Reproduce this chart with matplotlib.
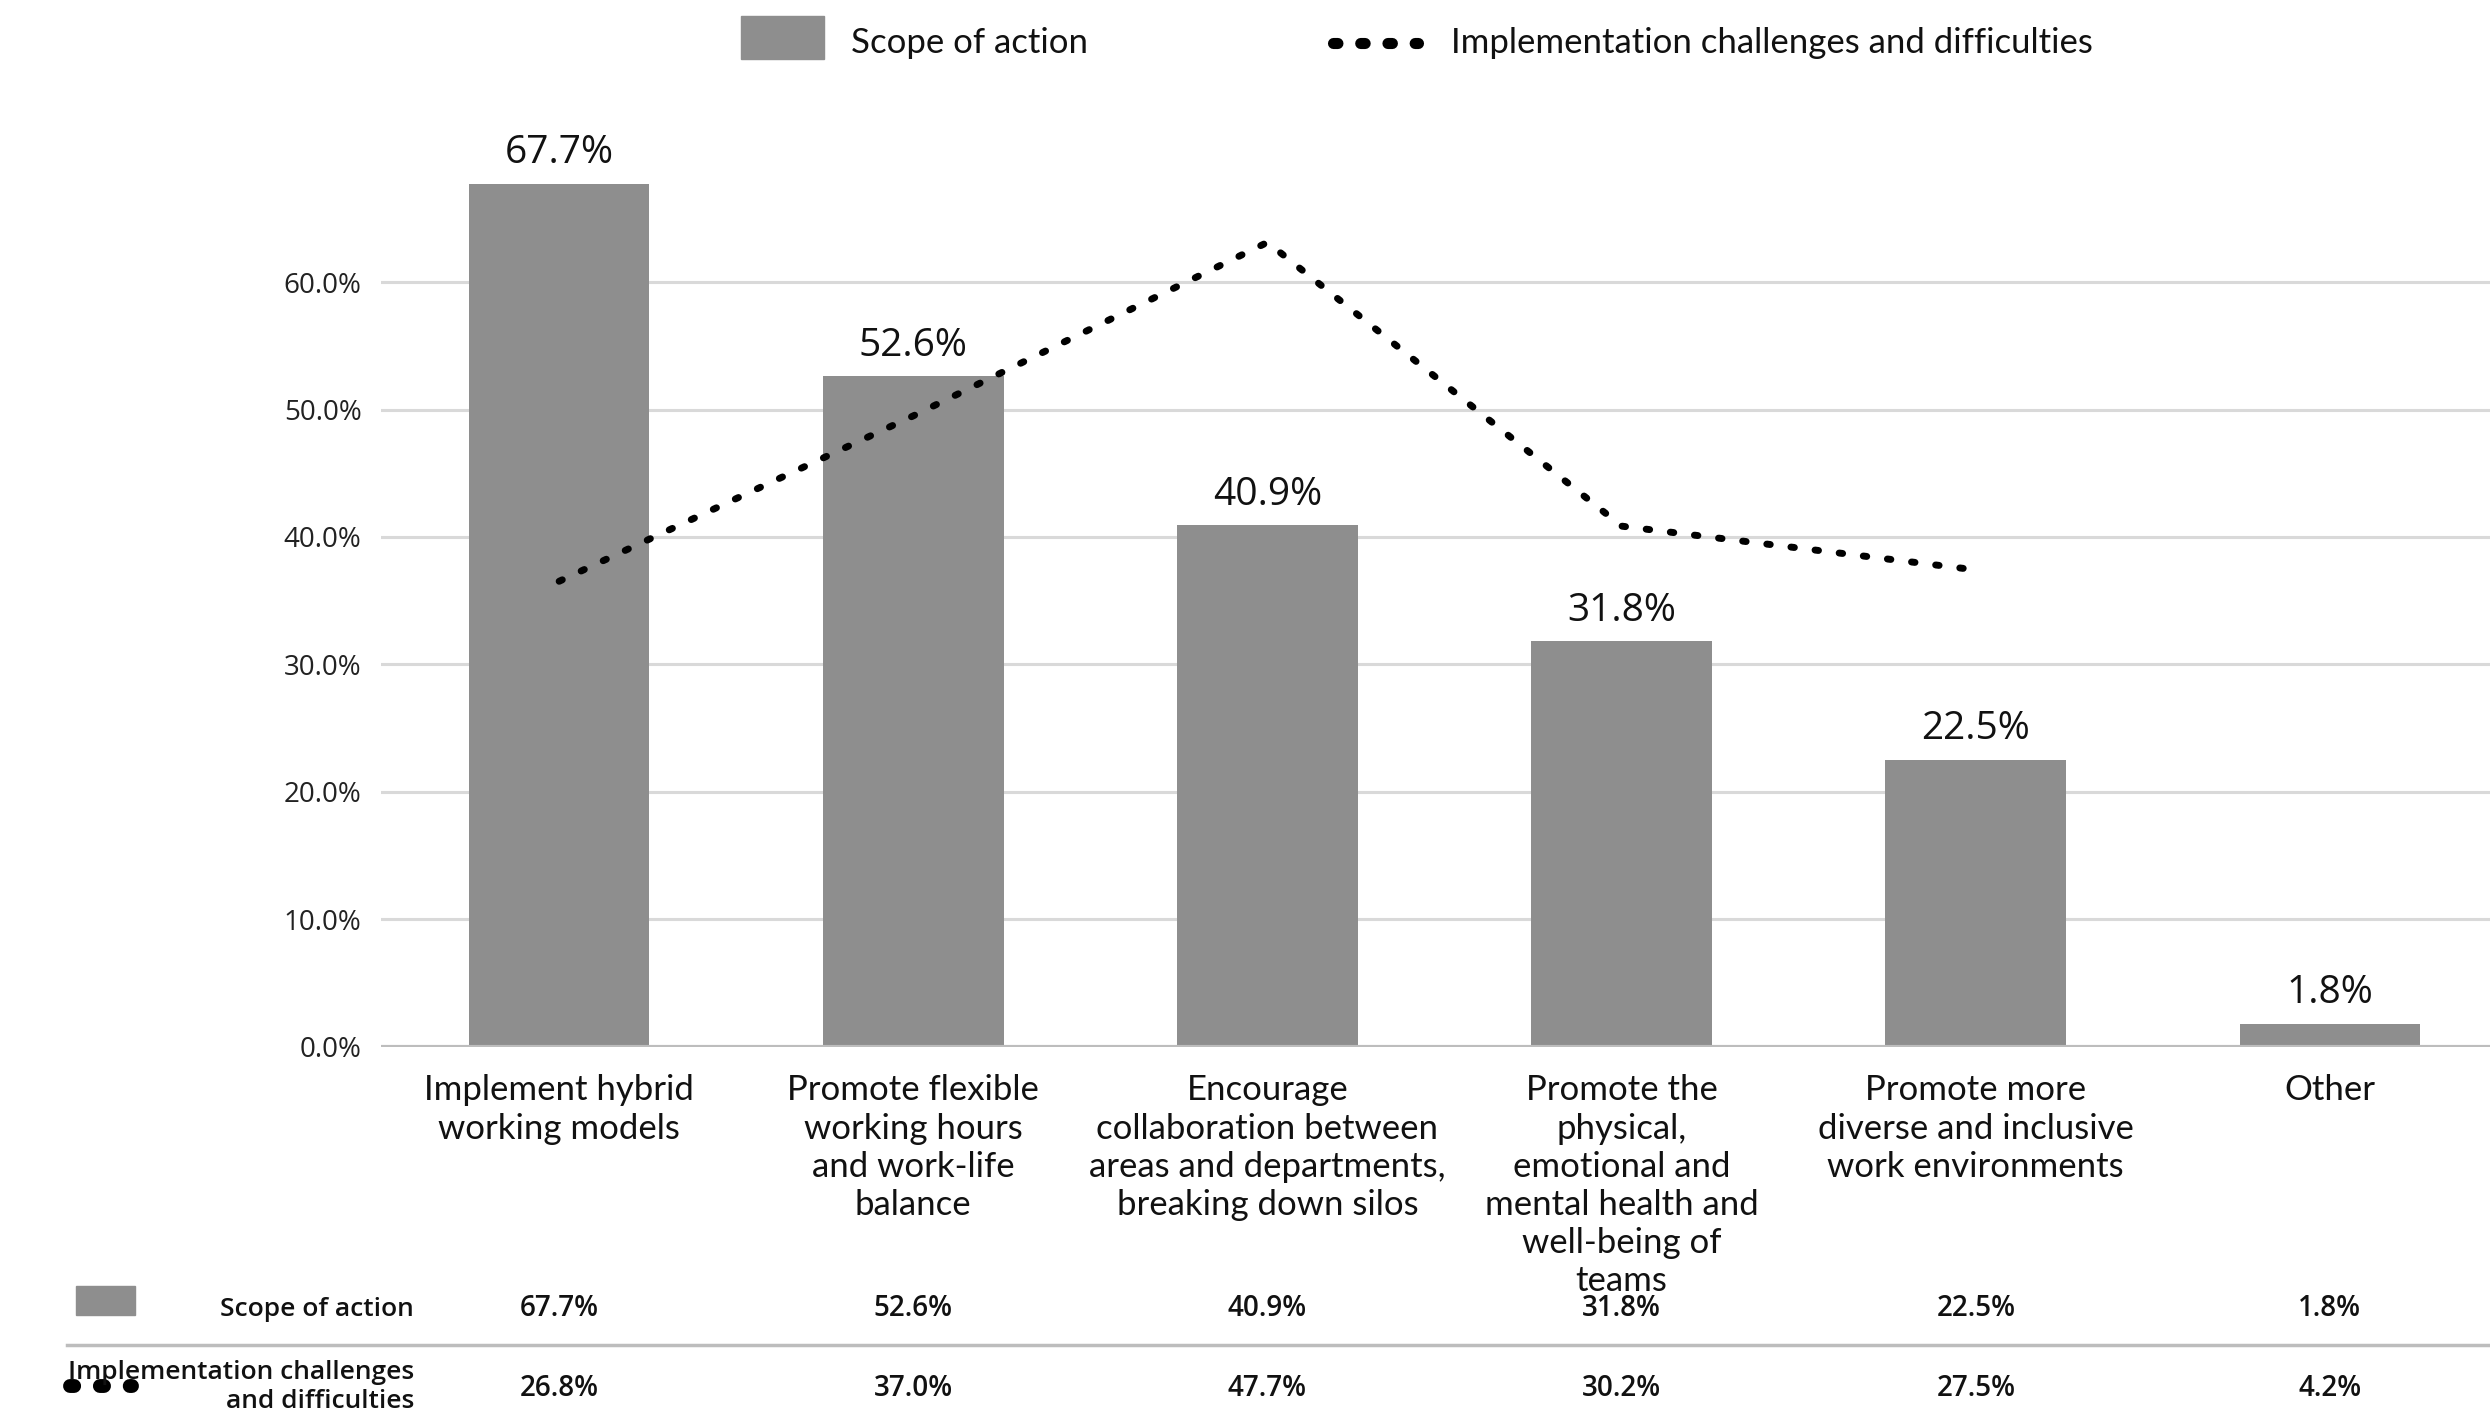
import matplotlib
matplotlib.use("Agg")
import matplotlib.pyplot as plt
from matplotlib.lines import Line2D
from matplotlib.patches import Rectangle
import matplotlib.transforms as mtransforms

plt.rcParams['font.family'] = ['Lato', 'DejaVu Sans']
NUMFONT = ['Open Sans', 'DejaVu Sans']

categories = [
    "Implement hybrid\nworking models",
    "Promote flexible\nworking hours\nand work-life\nbalance",
    "Encourage\ncollaboration between\nareas and departments,\nbreaking down silos",
    "Promote the\nphysical,\nemotional and\nmental health and\nwell-being of\nteams",
    "Promote more\ndiverse and inclusive\nwork environments",
    "Other",
]
scope = [67.7, 52.6, 40.9, 31.8, 22.5, 1.8]
challenges = [26.8, 37.0, 47.7, 30.2, 27.5, 4.2]
line_points = 5  # the reference's line stops before "Other"
yticks = [0, 10, 20, 30, 40, 50, 60]
series_names = ["Scope of action", "Implementation challenges and difficulties"]
table_names = ["Scope of action", "Implementation challenges\nand difficulties"]

BAR = "#8e8e8e"
GRID = "#d9d9d9"
W, H = 2490, 1415
fig = plt.figure(figsize=(W / 100, H / 100), dpi=100)

def fx(px):
    return px / W

def fy(py):
    return 1 - py / H

ax_left, ax_right = 381, 2490
ax_bottom, ax_top = 1046.5, 154.7
ax = fig.add_axes([fx(ax_left), fy(ax_bottom), fx(ax_right - ax_left), (ax_bottom - ax_top) / H])

x = list(range(len(categories)))
ax.bar(x, scope, width=0.51, color=BAR, zorder=3)
ax.set_xlim(-0.503, 5.452)
ax.set_ylim(0, 70)
ax.set_yticks(yticks)
ax.set_yticklabels([f"{v:.1f}%" for v in yticks], fontsize=20, color="#222222", family=NUMFONT)
ax.yaxis.grid(True, color=GRID, lw=2.2, zorder=0)
ax.axhline(0, color="#bdbdbd", lw=3, zorder=4)
ax.set_xticks(x)
ax.set_xticklabels(categories, fontsize=25, linespacing=1.24, color="#111111")
ax.tick_params(axis='both', length=0)
ax.tick_params(axis='y', pad=14)
ax.tick_params(axis='x', pad=20)
for s in ax.spines.values():
    s.set_visible(False)

for xi, v in zip(x, scope):
    ax.annotate(f"{v}%", (xi, v), xytext=(0, 15), textcoords="offset points",
                ha="center", va="baseline", fontsize=28, color="#111111", family=NUMFONT)

ax2 = ax.twinx()
a, b = 2.4, 1.273
ax2.set_ylim((0 - a) / b, (70 - a) / b)
ax2.plot(x[:line_points], challenges[:line_points], color="black", lw=5,
         linestyle=(0, (0.5, 3.0)), dash_capstyle="round", zorder=5)
ax2.axis("off")

# top legend
fig.add_artist(Rectangle((fx(741), fy(59)), fx(83), 43 / H, color=BAR, transform=fig.transFigure))
fig.text(fx(851), fy(43), series_names[0], fontsize=25, va="center", ha="left", color="#111111")
fig.add_artist(Line2D([fx(1333), fx(1418)], [fy(43), fy(43)], color="black", lw=8,
                      linestyle=(0, (0.4, 2.05)), dash_capstyle="round", transform=fig.transFigure))
fig.text(fx(1451), fy(43), series_names[1], fontsize=25, va="center", ha="left", color="#111111")

# data table below
tr = mtransforms.blended_transform_factory(ax.transData, fig.transFigure)
row1_y, row2_y = 1309, 1389
fig.add_artist(Rectangle((fx(76), fy(1315)), fx(59), 29 / H, color=BAR, transform=fig.transFigure))
fig.text(fx(414), fy(row1_y), table_names[0], fontsize=19, fontweight="semibold",
         ha="right", va="center", color="#111111", family=NUMFONT)
fig.add_artist(Line2D([fx(67), 1.0], [fy(1345), fy(1345)], color="#bdbdbd", lw=2.5,
                      transform=fig.transFigure))
fig.add_artist(Line2D([fx(70), fx(132)], [fy(1386), fy(1386)], color="black", lw=10,
                      linestyle=(0, (0.3, 1.85)), dash_capstyle="round", transform=fig.transFigure))
fig.text(fx(414), fy(1387), table_names[1], fontsize=19, fontweight="semibold",
         ha="right", va="center", color="#111111", linespacing=1.25, family=NUMFONT)
for xi, v1, v2 in zip(x, scope, challenges):
    ax.text(xi, fy(row1_y), f"{v1}%", transform=tr, fontsize=20, fontweight="semibold",
            ha="center", va="center", color="#111111", family=NUMFONT)
    ax.text(xi, fy(row2_y), f"{v2}%", transform=tr, fontsize=20, fontweight="semibold",
            ha="center", va="center", color="#111111", family=NUMFONT)

fig.savefig("out.png", dpi=100, facecolor="white")
